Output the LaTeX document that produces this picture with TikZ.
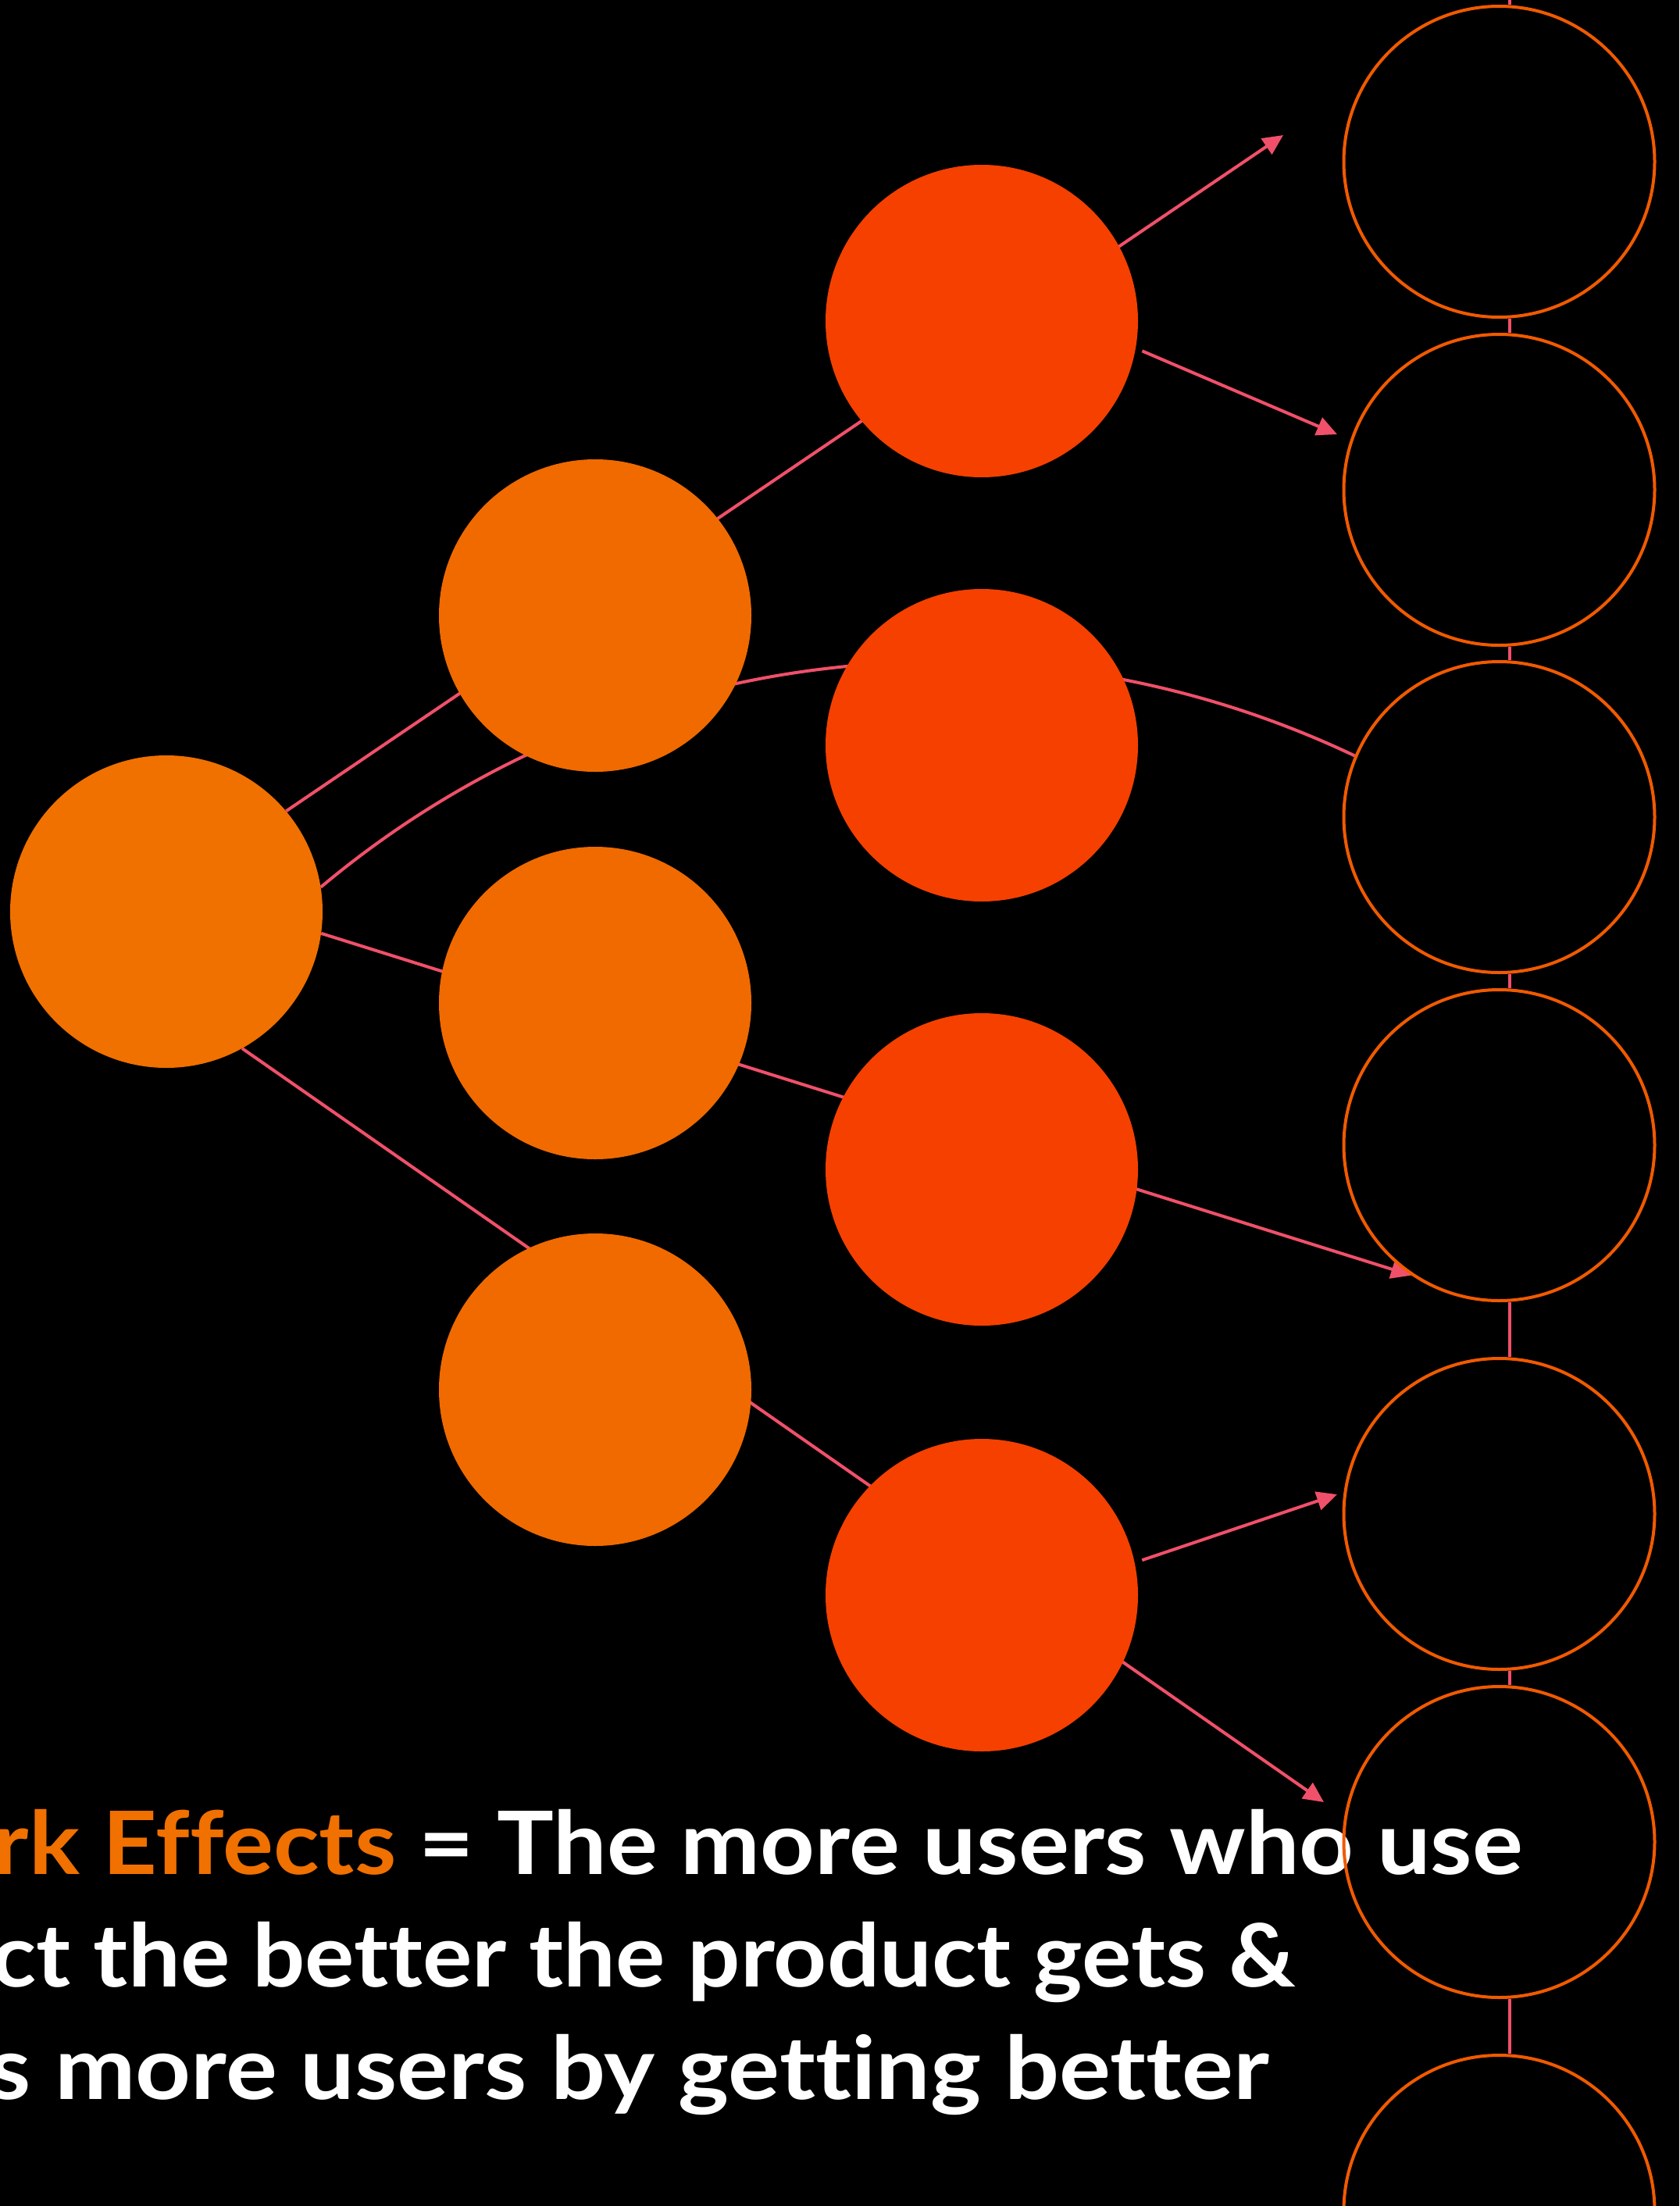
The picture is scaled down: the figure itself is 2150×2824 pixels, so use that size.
\documentclass[tikz,border=0pt]{standalone}
\usepackage{fontspec}
\newfontfamily\capfont{Lato}[Ligatures=NoCommon]
\usetikzlibrary{arrows.meta}
\definecolor{hubor}{HTML}{F07000}
\definecolor{midor}{HTML}{F06A00}
\definecolor{redor}{HTML}{F54000}
\definecolor{ringor}{HTML}{F05A00}
\definecolor{linkpink}{HTML}{F0506A}
\definecolor{txtor}{HTML}{F07000}
\pgfdeclarelayer{backdrop}
\pgfdeclarelayer{links}
\pgfsetlayers{backdrop,links,main}

% set a caption line stretched horizontally to a given width
\newsavebox\linebox
\newcommand\fitline[2]{%
  \sbox\linebox{#2}%
  \scalebox{\fpeval{#1/(\the\wd\linebox)}}[1]{\usebox\linebox}}

\begin{document}
\begin{tikzpicture}[x=1pt,y=1pt,
  hub/.style={circle, fill=hubor, draw=none, minimum size=400pt, inner sep=0pt},
  mid/.style={circle, fill=midor, draw=none, minimum size=400pt, inner sep=0pt},
  leaf/.style={circle, fill=redor, draw=none, minimum size=400pt, inner sep=0pt},
  ring/.style={circle, draw=ringor, line width=4pt, minimum size=398pt, inner sep=0pt},
  link/.style={draw=linkpink, line width=4pt},
  arrowlink/.style={link, -{Triangle[length=26pt,width=24pt]}},
  caption/.style={text=white, font=\capfont\bfseries\fontsize{112}{144}\selectfont,
                  inner sep=0pt, anchor=base east}
]
\useasboundingbox (0,0) rectangle (2150,-2824);
\begin{pgfonlayer}{backdrop}
  \fill[black] (0,0) rectangle (2150,-2824);
\end{pgfonlayer}

% source node
\node[hub] (L) at (213,-1167) {};
% second generation
\node[mid] (s1) at (762,-788) {};
\node[mid] (s2) at (762,-1284) {};
\node[mid] (s3) at (762,-1779) {};
% third generation
\node[leaf] (t1) at (1257,-411) {};
\node[leaf] (t2) at (1257,-954) {};
\node[leaf] (t3) at (1257,-1497) {};
\node[leaf] (t4) at (1257,-2042) {};

% caption
\node[caption] (cap1) at (1950,-2399) {\fitline{1958pt}{{\color{txtor}rk Effects} = The more users who use}};
\node[caption] (cap2) at (1659,-2543) {\fitline{1669pt}{ct the better the product gets \&}};
\node[caption] (cap3) at (1625,-2687) {\fitline{1639pt}{s more users by getting better}};

% column of rings
\node[ring] (R1) at (1919.5,-207) {};
\node[ring] (R2) at (1919.5,-627) {};
\node[ring] (R3) at (1919.5,-1046) {};
\node[ring] (R4) at (1919.5,-1466) {};
\node[ring] (R5) at (1919.5,-1938) {};
\node[ring] (R6) at (1919.5,-2358) {};
\node[ring] (R7) at (1919.5,-2830) {};

% free arrow ends
\coordinate (e1) at (1643,-173);
\coordinate (e2) at (1712,-556);
\coordinate (e5) at (1712,-1913);
\coordinate (e6) at (1695,-2307);
\coordinate (topend) at (1933,0);

\begin{pgfonlayer}{links}
  % long strands from the source, running behind the filled circles
  \draw[arrowlink] (L.40) -- (e1);
  \draw[link] (L.9) .. controls (781.3,-824.6) and (1297.3,-759.9) .. (R3.157);
  \draw[arrowlink] (L.-8) -- (R4.236);
  \draw[arrowlink] (L.-61) -- (e6);
  % single branches
  \draw[arrowlink, shorten <=9pt] (t1.-10) -- (e2);
  \draw[arrowlink, shorten <=10pt] (t4.12) -- (e5);
  % chain of rings
  \draw[link] ([xshift=13.5pt]R1.north) -- (topend);
  \draw[link] ([xshift=13.5pt]R1.south) -- ([xshift=13.5pt]R2.north);
  \draw[link] ([xshift=13.5pt]R2.south) -- ([xshift=13.5pt]R3.north);
  \draw[link] ([xshift=13.5pt]R3.south) -- ([xshift=13.5pt]R4.north);
  \draw[link] ([xshift=13.5pt]R4.south) -- ([xshift=13.5pt]R5.north);
  \draw[link] ([xshift=13.5pt]R5.south) -- ([xshift=13.5pt]R6.north);
  \draw[link] ([xshift=13.5pt]R6.south) -- ([xshift=13.5pt]R7.north);
\end{pgfonlayer}
\end{tikzpicture}
\end{document}
